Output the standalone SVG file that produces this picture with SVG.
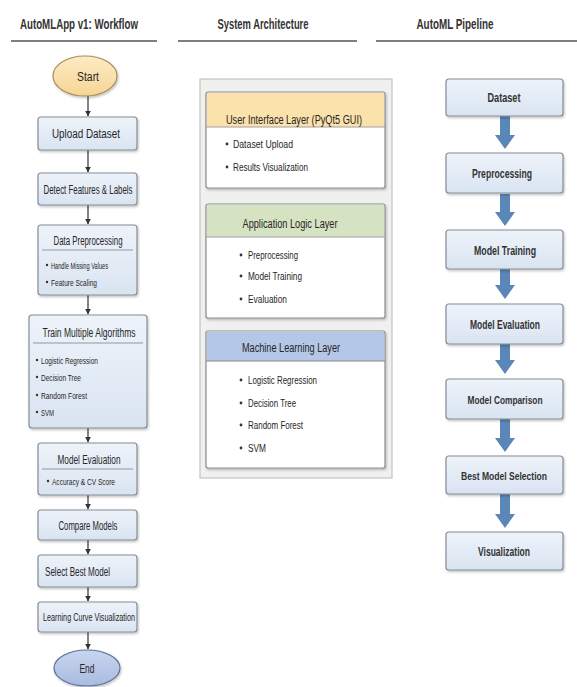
<svg xmlns="http://www.w3.org/2000/svg" width="577" height="687" viewBox="0 0 577 687">
<defs>
<linearGradient id="gBox" x1="0" y1="0" x2="0" y2="1">
<stop offset="0" stop-color="#eef3fa"/>
<stop offset="1" stop-color="#d9e4f1"/>
</linearGradient>
<linearGradient id="gStart" x1="0" y1="0" x2="0" y2="1">
<stop offset="0" stop-color="#fdebc4"/>
<stop offset="1" stop-color="#f6d595"/>
</linearGradient>
<linearGradient id="gEnd" x1="0" y1="0" x2="0" y2="1">
<stop offset="0" stop-color="#c9d5ee"/>
<stop offset="1" stop-color="#a9bbe0"/>
</linearGradient>
<marker id="ah" viewBox="0 0 10 10" refX="9" refY="5" markerWidth="5" markerHeight="5" orient="auto">
<path d="M0,0 L10,5 L0,10 z" fill="#333"/>
</marker>
<filter id="sh" x="-10%" y="-10%" width="120%" height="130%">
<feDropShadow dx="1" dy="1.5" stdDeviation="1" flood-color="#000" flood-opacity="0.25"/>
</filter>
</defs>
<style>
text{font-family:"Liberation Sans",Arial,sans-serif;fill:#262626}
.h{font-size:15px;font-weight:bold;fill:#333}
.t{font-size:12.5px}
.s{font-size:9.5px}
.b{font-size:10.5px}
.m{font-size:12px}
.r{font-size:12px;font-weight:bold;fill:#333}
.r2{font-size:10.5px;font-weight:bold;fill:#333}
.box{fill:url(#gBox);stroke:#868d96;stroke-width:1.2;filter:url(#sh)}
.sep{stroke:#8f97a3;stroke-width:1}
.hl{stroke:#555;stroke-width:1.6}
.lay{fill:#fff;stroke:#8c8c8c;stroke-width:1.2;filter:url(#sh)}
.con{stroke:#333;stroke-width:1.2;fill:none;marker-end:url(#ah)}
.big{fill:#5b86b8}
.dot{fill:#333}
</style>
<rect width="577" height="687" fill="#fff"/>

<g id="headers">
<text class="h" x="79" y="29" text-anchor="middle" textLength="118" lengthAdjust="spacingAndGlyphs">AutoMLApp v1: Workflow</text>
<text class="h" x="263" y="29" text-anchor="middle" textLength="91" lengthAdjust="spacingAndGlyphs">System Architecture</text>
<text class="h" x="455" y="29" text-anchor="middle" textLength="77" lengthAdjust="spacingAndGlyphs">AutoML Pipeline</text>
<line class="hl" x1="11" y1="41" x2="157" y2="41"/>
<line class="hl" x1="178" y1="41" x2="357" y2="41"/>
<line class="hl" x1="376" y1="41" x2="577" y2="41"/>
</g>

<g id="connectors">
<line class="con" x1="88" y1="96" x2="88" y2="116"/>
<line class="con" x1="88" y1="150" x2="88" y2="172"/>
<line class="con" x1="88" y1="205" x2="88" y2="224"/>
<line class="con" x1="88" y1="295" x2="88" y2="314"/>
<line class="con" x1="88" y1="428" x2="88" y2="442"/>
<line class="con" x1="88" y1="495" x2="88" y2="509"/>
<line class="con" x1="88" y1="540" x2="88" y2="554"/>
<line class="con" x1="88" y1="587" x2="88" y2="601"/>
<line class="con" x1="88" y1="632" x2="88" y2="649"/>
<path class="big" d="M500,116 H510 V135 H515 L505,149 L495,135 H500 Z"/>
<path class="big" d="M500,194 H510 V212 H515 L505,226 L495,212 H500 Z"/>
<path class="big" d="M500,269 H510 V285 H515 L505,299 L495,285 H500 Z"/>
<path class="big" d="M500,344 H510 V360 H515 L505,374 L495,360 H500 Z"/>
<path class="big" d="M500,419 H510 V438 H515 L505,452 L495,438 H500 Z"/>
<path class="big" d="M500,494 H510 V514 H515 L505,528 L495,514 H500 Z"/>
</g>

<g id="start">
<ellipse cx="85" cy="76" rx="32" ry="20" fill="url(#gStart)" stroke="#a88f55" stroke-width="1.2" filter="url(#sh)"/>
<text class="t" x="88" y="81" text-anchor="middle" textLength="22" lengthAdjust="spacingAndGlyphs">Start</text>
</g>
<g id="upload">
<rect class="box" x="38" y="117" width="99" height="33" rx="3"/>
<text class="t" x="86" y="138" text-anchor="middle" textLength="68" lengthAdjust="spacingAndGlyphs">Upload Dataset</text>
</g>
<g id="detect">
<rect class="box" x="38" y="173" width="99" height="32" rx="3"/>
<text class="t" x="88" y="194" text-anchor="middle" textLength="89" lengthAdjust="spacingAndGlyphs">Detect Features &amp; Labels</text>
</g>
<g id="dataprep">
<rect class="box" x="38" y="225" width="99" height="70" rx="3"/>
<text class="t" x="88" y="245" text-anchor="middle" textLength="69" lengthAdjust="spacingAndGlyphs">Data Preprocessing</text>
<line class="sep" x1="42" y1="250" x2="133" y2="250"/>
<circle class="dot" cx="47" cy="265" r="1.2"/>
<text class="s" x="51" y="268.5" textLength="57" lengthAdjust="spacingAndGlyphs">Handle Missing Values</text>
<circle class="dot" cx="47" cy="282" r="1.2"/>
<text class="s" x="51" y="285.5" textLength="46" lengthAdjust="spacingAndGlyphs">Feature Scaling</text>
</g>
<g id="train">
<rect class="box" x="29" y="315" width="118" height="113" rx="3"/>
<text class="t" x="89" y="337" text-anchor="middle" textLength="93" lengthAdjust="spacingAndGlyphs">Train Multiple Algorithms</text>
<line class="sep" x1="33" y1="343" x2="143" y2="343"/>
<circle class="dot" cx="37" cy="360" r="1.2"/>
<text class="s" x="41" y="363.5" textLength="57" lengthAdjust="spacingAndGlyphs">Logistic Regression</text>
<circle class="dot" cx="37" cy="377" r="1.2"/>
<text class="s" x="41" y="380.5" textLength="40" lengthAdjust="spacingAndGlyphs">Decision Tree</text>
<circle class="dot" cx="37" cy="395" r="1.2"/>
<text class="s" x="41" y="398.5" textLength="46" lengthAdjust="spacingAndGlyphs">Random Forest</text>
<circle class="dot" cx="37" cy="412" r="1.2"/>
<text class="s" x="41" y="415.5" textLength="13" lengthAdjust="spacingAndGlyphs">SVM</text>
</g>
<g id="modeleval">
<rect class="box" x="38" y="443" width="99" height="52" rx="3"/>
<text class="t" x="89" y="464" text-anchor="middle" textLength="63" lengthAdjust="spacingAndGlyphs">Model Evaluation</text>
<line class="sep" x1="42" y1="469" x2="133" y2="469"/>
<circle class="dot" cx="48" cy="481" r="1.2"/>
<text class="s" x="52" y="484.5" textLength="63" lengthAdjust="spacingAndGlyphs">Accuracy &amp; CV Score</text>
</g>
<g id="compare">
<rect class="box" x="38" y="510" width="99" height="30" rx="3"/>
<text class="t" x="88" y="530" text-anchor="middle" textLength="59" lengthAdjust="spacingAndGlyphs">Compare Models</text>
</g>
<g id="select">
<rect class="box" x="38" y="555" width="99" height="32" rx="3"/>
<text class="t" x="45" y="576" textLength="65" lengthAdjust="spacingAndGlyphs">Select Best Model</text>
</g>
<g id="learning">
<rect class="box" x="38" y="602" width="99" height="30" rx="3"/>
<text class="b" x="89" y="621" text-anchor="middle" textLength="92" lengthAdjust="spacingAndGlyphs">Learning Curve Visualization</text>
</g>
<g id="end">
<ellipse cx="87" cy="668" rx="33" ry="18" fill="url(#gEnd)" stroke="#5d719b" stroke-width="1.2" filter="url(#sh)"/>
<text class="t" x="87" y="673" text-anchor="middle" textLength="15" lengthAdjust="spacingAndGlyphs">End</text>
</g>

<g id="architecture">
<rect x="200" y="79" width="192" height="399" fill="#f0f0ee" stroke="#c4c4c4" stroke-width="1.2"/>
</g>
<g id="ui-layer">
<rect class="lay" x="206" y="92" width="179" height="96" rx="2"/>
<path d="M207,93 H384 V127 H207 Z" fill="#fbe1ab"/>
<line x1="206" y1="127" x2="385" y2="127" stroke="#a0a0a0" stroke-width="1"/>
<text class="m" x="294" y="124" text-anchor="middle" textLength="136" lengthAdjust="spacingAndGlyphs">User Interface Layer (PyQt5 GUI)</text>
<circle class="dot" cx="227" cy="144" r="1.4"/>
<text class="b" x="233" y="148" textLength="60" lengthAdjust="spacingAndGlyphs">Dataset Upload</text>
<circle class="dot" cx="227" cy="167" r="1.4"/>
<text class="b" x="233" y="171" textLength="75" lengthAdjust="spacingAndGlyphs">Results Visualization</text>
</g>
<g id="logic-layer">
<rect class="lay" x="206" y="204" width="179" height="114" rx="2"/>
<path d="M207,205 H384 V237 H207 Z" fill="#d6e3c2"/>
<line x1="206" y1="237" x2="385" y2="237" stroke="#a0a0a0" stroke-width="1"/>
<text class="m" x="290" y="228" text-anchor="middle" textLength="95" lengthAdjust="spacingAndGlyphs">Application Logic Layer</text>
<circle class="dot" cx="241" cy="255" r="1.4"/>
<text class="b" x="248" y="259" textLength="50" lengthAdjust="spacingAndGlyphs">Preprocessing</text>
<circle class="dot" cx="241" cy="276" r="1.4"/>
<text class="b" x="248" y="280" textLength="54" lengthAdjust="spacingAndGlyphs">Model Training</text>
<circle class="dot" cx="241" cy="299" r="1.4"/>
<text class="b" x="248" y="303" textLength="39" lengthAdjust="spacingAndGlyphs">Evaluation</text>
</g>
<g id="ml-layer">
<rect class="lay" x="206" y="331" width="179" height="137" rx="2"/>
<path d="M207,332 H384 V361 H207 Z" fill="#b5c7e6"/>
<line x1="206" y1="361" x2="385" y2="361" stroke="#8a8a8a" stroke-width="1"/>
<text class="m" x="291" y="352" text-anchor="middle" textLength="98" lengthAdjust="spacingAndGlyphs">Machine Learning Layer</text>
<circle class="dot" cx="241" cy="380" r="1.4"/>
<text class="b" x="248" y="384" textLength="69" lengthAdjust="spacingAndGlyphs">Logistic Regression</text>
<circle class="dot" cx="241" cy="403" r="1.4"/>
<text class="b" x="248" y="407" textLength="48" lengthAdjust="spacingAndGlyphs">Decision Tree</text>
<circle class="dot" cx="241" cy="425" r="1.4"/>
<text class="b" x="248" y="429" textLength="55" lengthAdjust="spacingAndGlyphs">Random Forest</text>
<circle class="dot" cx="241" cy="448" r="1.4"/>
<text class="b" x="248" y="452" textLength="18" lengthAdjust="spacingAndGlyphs">SVM</text>
</g>

<g id="p-dataset">
<rect class="box" x="446" y="79" width="117" height="37" rx="3"/>
<text class="r" x="504" y="102" text-anchor="middle" textLength="33" lengthAdjust="spacingAndGlyphs">Dataset</text>
</g>
<g id="p-preprocessing">
<rect class="box" x="446" y="153" width="117" height="40" rx="3"/>
<text class="r" x="502" y="178" text-anchor="middle" textLength="60" lengthAdjust="spacingAndGlyphs">Preprocessing</text>
</g>
<g id="p-training">
<rect class="box" x="446" y="230" width="117" height="39" rx="3"/>
<text class="r" x="505" y="255" text-anchor="middle" textLength="62" lengthAdjust="spacingAndGlyphs">Model Training</text>
</g>
<g id="p-evaluation">
<rect class="box" x="446" y="304" width="117" height="40" rx="3"/>
<text class="r" x="505" y="329" text-anchor="middle" textLength="70" lengthAdjust="spacingAndGlyphs">Model Evaluation</text>
</g>
<g id="p-comparison">
<rect class="box" x="446" y="379" width="117" height="40" rx="3"/>
<text class="r2" x="505" y="403.5" text-anchor="middle" textLength="75" lengthAdjust="spacingAndGlyphs">Model Comparison</text>
</g>
<g id="p-selection">
<rect class="box" x="446" y="456" width="117" height="38" rx="3"/>
<text class="r2" x="504" y="479.5" text-anchor="middle" textLength="86" lengthAdjust="spacingAndGlyphs">Best Model Selection</text>
</g>
<g id="p-visualization">
<rect class="box" x="446" y="532" width="117" height="38" rx="3"/>
<text class="r" x="504" y="556" text-anchor="middle" textLength="52" lengthAdjust="spacingAndGlyphs">Visualization</text>
</g>
</svg>
